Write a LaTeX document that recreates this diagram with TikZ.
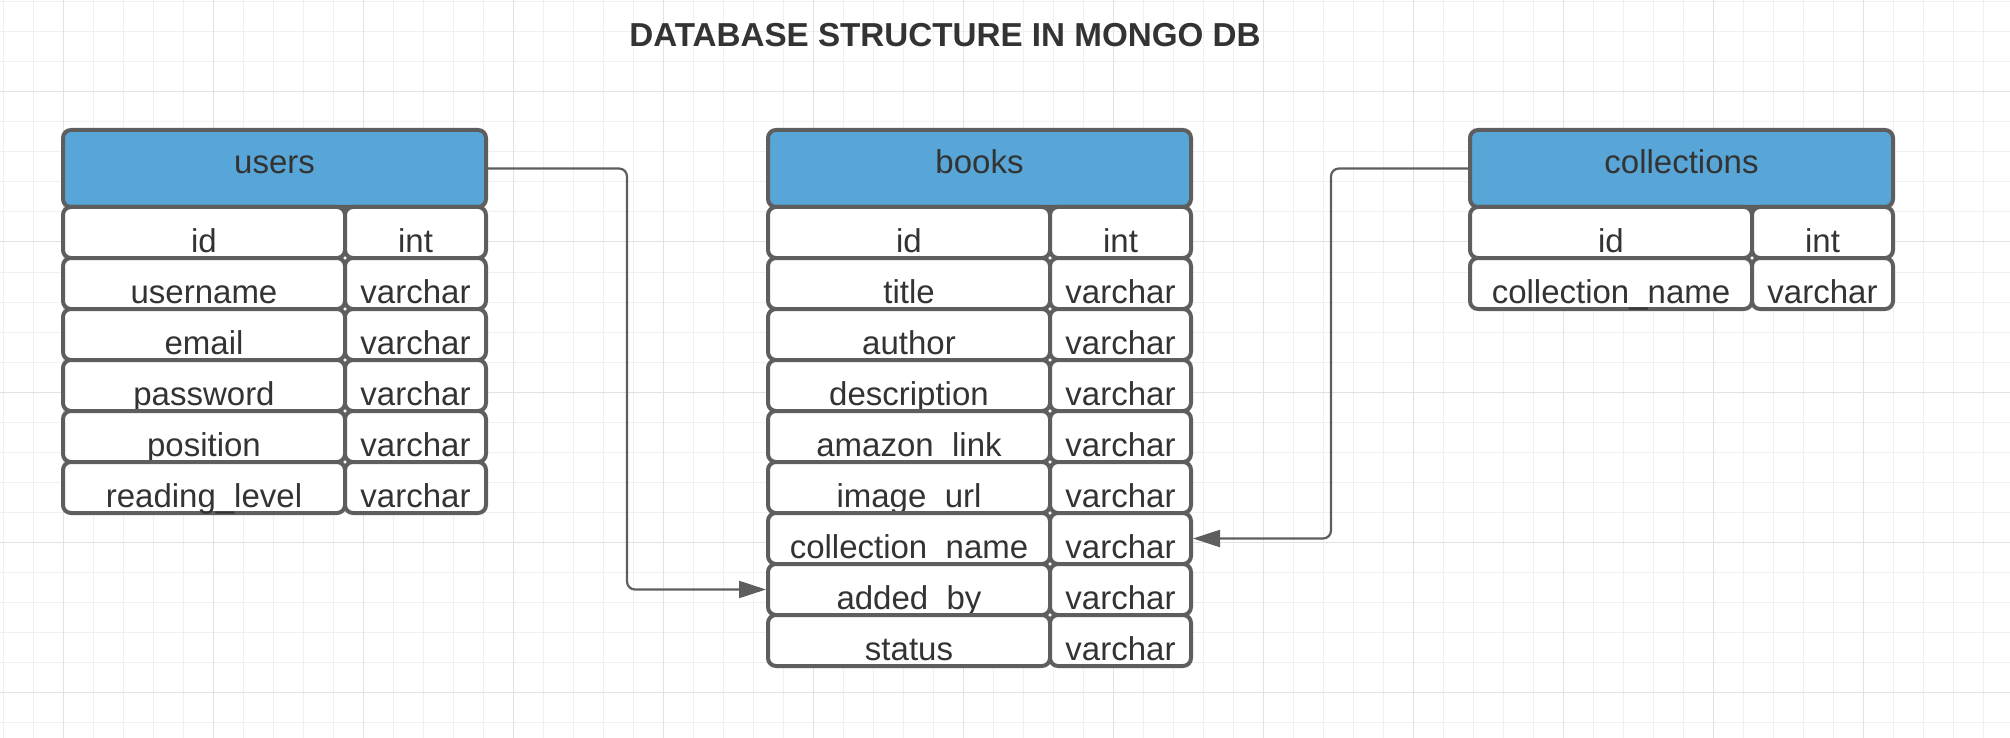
\documentclass[tikz,border=0pt]{standalone}
\usepackage{fontspec}
\setmainfont{Liberation Sans}
\usetikzlibrary{arrows.meta}
\definecolor{hdrblue}{HTML}{58A6D8}
\definecolor{boxgray}{HTML}{5E5E5E}
\definecolor{txtgray}{HTML}{333333}
\definecolor{gridlight}{HTML}{F0F0F0}
\definecolor{gridmid}{HTML}{E2E2E2}
\tikzset{cell/.style={draw=boxgray, line width=2pt, rounded corners=4pt, fill=white, text=txtgray,
    inner sep=0pt, outer sep=0pt, anchor=north west, minimum height=25.5pt,
    text height=22.75pt, text depth=2.75pt, font=\fontsize{16.5}{18}\selectfont},
namecell/.style={cell, minimum width=141pt},
typecell/.style={cell, minimum width=70.5pt},
%table title bar
header/.style={cell, fill=hdrblue, minimum width=211.5pt, minimum height=38.5pt,
    text height=22pt, text depth=16.5pt},
link/.style={draw=boxgray, line width=1.1pt, rounded corners=4pt, shorten >=1pt,
    -{Triangle[length=13.5pt,width=8.5pt]}}}

\begin{document}
\begin{tikzpicture}[x=0.5pt, y=-0.5pt]
    \useasboundingbox (0,0) rectangle (2010,738);
    \fill[white] (0,0) rectangle (2010,738);
    % grid
    \foreach \gx in {3,33,...,2010} \draw[gridlight, line width=0.5pt] (\gx,0) -- (\gx,738);
    \foreach \gy in {2,32,...,738} \draw[gridlight, line width=0.5pt] (0,\gy) -- (2010,\gy);
    \foreach \gx in {63,213,...,2010} \draw[gridmid, line width=0.5pt] (\gx,0) -- (\gx,738);
    \foreach \gy in {92,242,...,738} \draw[gridmid, line width=0.5pt] (0,\gy) -- (2010,\gy);

    \node[anchor=base, text=txtgray, font=\fontsize{16.6}{18}\selectfont\bfseries] (title) at (945,47) {DATABASE STRUCTURE IN MONGO DB};

    % users
    \node[header] (users) at (63,130) {users};
    \foreach \fname/\ftype [count=\i] in {id/int, username/varchar, email/varchar, password/varchar,
        position/varchar, reading\_level/varchar} {
        \node[namecell] (users-f\i) at (63,{207+51*(\i-1)}) {\fname};
        \node[typecell] (users-t\i) at (345,{207+51*(\i-1)}) {\ftype};
    }

    % books
    \node[header] (books) at (768,130) {books};
    \foreach \fname/\ftype [count=\i] in {id/int, title/varchar, author/varchar, description/varchar,
        amazon\_link/varchar, image\_url/varchar, collection\_name/varchar, added\_by/varchar, status/varchar} {
        \node[namecell] (books-f\i) at (768,{207+51*(\i-1)}) {\fname};
        \node[typecell] (books-t\i) at (1050,{207+51*(\i-1)}) {\ftype};
    }

    % collections
    \node[header] (collections) at (1470,130) {collections};
    \foreach \fname/\ftype [count=\i] in {id/int, collection\_name/varchar} {
        \node[namecell] (collections-f\i) at (1470,{207+51*(\i-1)}) {\fname};
        \node[typecell] (collections-t\i) at (1752,{207+51*(\i-1)}) {\ftype};
    }

    \coordinate (ubend) at (627,400);
    \coordinate (cbend) at (1331,400);
    \draw[link] (users.east) -| (ubend) |- (books-f8.west);
    \draw[link] (collections.west) -| (cbend) |- (books-t7.east);
\end{tikzpicture}
\end{document}
